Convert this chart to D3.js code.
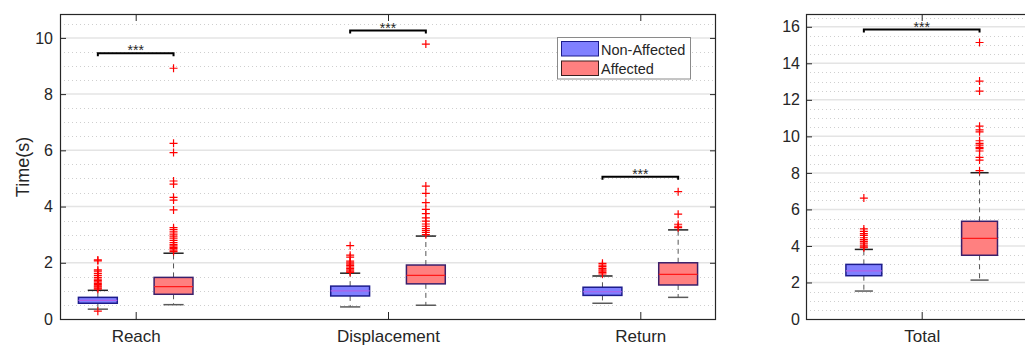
<!DOCTYPE html>
<html>
<head>
<meta charset="utf-8">
<script src="https://cdn.jsdelivr.net/npm/d3@7"></script>
<style>
  body { margin: 0; background: #fff; }
  text { font-family: "Liberation Sans", Arial, sans-serif; fill: #262626; }
</style>
</head>
<body>
<div id="chart"></div>
<script>
// Data: box stats are [lowerWhisker, q1, median, q3, upperWhisker]
var categories = ["Reach", "Displacement", "Return"];
var nonAffectedStats = [
  [0.35, 0.56, 0.66, 0.77, 1.02],
  [0.43, 0.82, 1.00, 1.17, 1.63],
  [0.56, 0.84, 0.97, 1.13, 1.53]
];
var affectedStats = [
  [0.51, 0.88, 1.15, 1.48, 2.34],
  [0.49, 1.25, 1.55, 1.92, 2.95],
  [0.77, 1.21, 1.59, 2.00, 3.17]
];
var nonAffectedOutliers = [
  [2.10, 2.07, 1.75, 1.70, 1.62, 1.55, 1.48, 1.42, 1.37, 1.32, 1.27, 1.22, 1.18, 1.14, 1.10, 1.06, 0.28],
  [2.61, 2.27, 2.20, 2.06, 2.00, 1.95, 1.90, 1.85, 1.80, 1.75, 1.70, 1.66],
  [1.98, 1.92, 1.86, 1.80, 1.75, 1.70, 1.65, 1.60]
];
var affectedOutliers = [
  [8.92, 6.25, 5.92, 4.91, 4.80, 4.33, 4.23, 3.88, 3.25, 3.18, 3.10, 3.02, 2.95, 2.88, 2.80, 2.72, 2.65, 2.60, 2.55, 2.50, 2.45, 2.40],
  [9.78, 4.73, 4.47, 4.14, 3.90, 3.75, 3.60, 3.48, 3.38, 3.30, 3.22, 3.15, 3.08, 3.00],
  [4.53, 3.73, 3.37, 3.30, 3.25]
];
var sigLevels = [9.45, 10.26, 5.06];

var totalCategory = ["Total"];
var totalNonAffectedStats = [[1.53, 2.37, 2.64, 2.99, 3.81]];
var totalAffectedStats = [[2.13, 3.49, 4.42, 5.35, 8.01]];
var totalNonAffectedOutliers = [[6.62, 4.93, 4.80, 4.68, 4.58, 4.45, 4.35, 4.25, 4.15, 4.05, 3.95, 3.90]];
var totalAffectedOutliers = [[15.14, 13.03, 12.48, 10.56, 10.35, 10.25, 9.76, 9.62, 9.52, 9.40, 9.33, 9.20, 8.85, 8.70, 8.12]];
var totalSigLevels = [15.85];

var leftTicks = [0, 2, 4, 6, 8, 10];
var rightTicks = [0, 2, 4, 6, 8, 10, 12, 14, 16];
var legendLabels = ["Non-Affected", "Affected"];

var svg = d3.select("#chart").append("svg")
  .attr("width", 1025)
  .attr("height", 345);

var colors = {
  naFill: "#8080ff", naEdge: "#1c1c8c", naMed: "#b060e8",
  aFill: "#ff8080", aEdge: "#3a1f6a", aMed: "#ff1a1a"
};

function drawPanel(opt) {
  var x = d3.scaleLinear().domain([0.7, opt.n + 0.3]).range(opt.xr);
  var y = d3.scaleLinear().domain([0, opt.ymax]).range([319, 14]);
  var g = svg.append("g");
  var x0 = opt.xr[0], x1 = opt.xr[1];

  // minor grid
  var minor = d3.range(0.5, opt.ymax, 0.5).filter(function(v) { return v % 2 !== 0; });
  g.selectAll(".minor").data(minor).enter().append("line")
    .attr("x1", x0).attr("x2", x1)
    .attr("y1", function(d) { return Math.round(y(d)) + 0.5; })
    .attr("y2", function(d) { return Math.round(y(d)) + 0.5; })
    .attr("stroke", "#cfcfcf").attr("stroke-dasharray", "1,3");

  // major grid
  g.selectAll(".major").data(opt.ticks.filter(function(d) { return d > 0; })).enter().append("line")
    .attr("x1", x0).attr("x2", x1)
    .attr("y1", function(d) { return y(d); })
    .attr("y2", function(d) { return y(d); })
    .attr("stroke", "#e4e4e4").attr("stroke-width", 1.5);

  // axes (MATLAB style, inward ticks)
  var leftAxis = d3.axisLeft(y).tickValues(opt.ticks).tickSizeInner(-6).tickSizeOuter(0).tickPadding(opt.pad);
  var ga = g.append("g").attr("transform", "translate(" + x0 + ",0)").call(leftAxis);
  ga.select(".domain").remove();
  ga.selectAll("line").attr("stroke", "#262626");
  ga.selectAll("text").style("font-size", "16px").attr("fill", "#262626");

  var rightAxis = d3.axisRight(y).tickValues(opt.ticks).tickSizeInner(-6).tickSizeOuter(0).tickFormat("");
  var gr = g.append("g").attr("transform", "translate(" + x1 + ",0)").call(rightAxis);
  gr.select(".domain").remove();
  gr.selectAll("line").attr("stroke", "#262626");

  var bottomAxis = d3.axisBottom(x).tickValues(d3.range(1, opt.n + 1)).tickSizeInner(-7).tickSizeOuter(0)
    .tickPadding(11).tickFormat(function(d) { return opt.cats[d - 1]; });
  var gb = g.append("g").attr("transform", "translate(0,319)").call(bottomAxis);
  gb.select(".domain").remove();
  gb.selectAll("line").attr("stroke", "#262626");
  gb.selectAll("text").style("font-size", "17px").attr("fill", "#262626");

  var topAxis = d3.axisTop(x).tickValues(d3.range(1, opt.n + 1)).tickSizeInner(-7).tickSizeOuter(0).tickFormat("");
  var gt = g.append("g").attr("transform", "translate(0,14)").call(topAxis);
  gt.select(".domain").remove();
  gt.selectAll("line").attr("stroke", "#262626");

  g.append("rect")
    .attr("x", x0 + 0.5).attr("y", 14.5)
    .attr("width", x1 - x0 - 1).attr("height", 305)
    .attr("fill", "none").attr("stroke", "#262626").attr("stroke-width", 1.2);

  function boxes(stats, outs, off, fill, edge, med) {
    var bw = opt.boxW, cw = opt.capW;
    var bg = g.selectAll(null).data(stats).enter().append("g");
    var cx = function(d, i) { return x(i + 1 + off); };
    // whiskers
    bg.append("line")
      .attr("x1", cx).attr("x2", cx)
      .attr("y1", function(d) { return y(d[3]); }).attr("y2", function(d) { return y(d[4]); })
      .attr("stroke", "#555").attr("stroke-dasharray", "5,4");
    bg.append("line")
      .attr("x1", cx).attr("x2", cx)
      .attr("y1", function(d) { return y(d[1]); }).attr("y2", function(d) { return y(d[0]); })
      .attr("stroke", "#555").attr("stroke-dasharray", "5,4");
    bg.append("line")
      .attr("x1", function(d, i) { return x(i + 1 + off - cw / 2); })
      .attr("x2", function(d, i) { return x(i + 1 + off + cw / 2); })
      .attr("y1", function(d) { return y(d[4]); }).attr("y2", function(d) { return y(d[4]); })
      .attr("stroke", "#222").attr("stroke-width", 1.5);
    bg.append("line")
      .attr("x1", function(d, i) { return x(i + 1 + off - cw / 2); })
      .attr("x2", function(d, i) { return x(i + 1 + off + cw / 2); })
      .attr("y1", function(d) { return y(d[0]); }).attr("y2", function(d) { return y(d[0]); })
      .attr("stroke", "#5a5a5a").attr("stroke-width", 1.5);
    // box
    bg.append("rect")
      .attr("x", function(d, i) { return x(i + 1 + off - bw / 2); })
      .attr("width", x(1 + bw) - x(1))
      .attr("y", function(d) { return y(d[3]); })
      .attr("height", function(d) { return y(d[1]) - y(d[3]); })
      .attr("fill", fill).attr("stroke", edge).attr("stroke-width", 1.5);
    bg.append("line")
      .attr("x1", function(d, i) { return x(i + 1 + off - bw / 2); })
      .attr("x2", function(d, i) { return x(i + 1 + off + bw / 2); })
      .attr("y1", function(d) { return y(d[2]); }).attr("y2", function(d) { return y(d[2]); })
      .attr("stroke", med).attr("stroke-width", 1.2);
    // outliers
    outs.forEach(function(list, i) {
      var px = x(i + 1 + off);
      list.forEach(function(v) {
        var py = y(v);
        g.append("path")
          .attr("d", "M" + (px - 4) + "," + py + "H" + (px + 4) + "M" + px + "," + (py - 4) + "V" + (py + 4))
          .attr("stroke", "#ff0000").attr("stroke-width", 1.2).attr("fill", "none");
      });
    });
  }

  boxes(opt.na, opt.naOut, -0.15, colors.naFill, colors.naEdge, colors.naMed);
  boxes(opt.a, opt.aOut, 0.15, colors.aFill, colors.aEdge, colors.aMed);

  // significance bars
  opt.sig.forEach(function(v, i) {
    var xa = x(i + 1 - 0.15), xb = x(i + 1 + 0.15), yy = y(v);
    g.append("path")
      .attr("d", "M" + xa + "," + (yy + 3) + "V" + yy + "H" + xb + "V" + (yy + 3))
      .attr("stroke", "#000").attr("stroke-width", 2).attr("fill", "none");
    g.append("text")
      .attr("x", (xa + xb) / 2).attr("y", yy + 2)
      .attr("text-anchor", "middle")
      .style("font-size", "14px").attr("fill", "#000")
      .text("***");
  });
}

drawPanel({
  n: 3, cats: categories, xr: [60, 716], ymax: 10.85, ticks: leftTicks, pad: 7,
  na: nonAffectedStats, a: affectedStats, naOut: nonAffectedOutliers, aOut: affectedOutliers,
  sig: sigLevels, boxW: 0.154, capW: 0.08
});

drawPanel({
  n: 1, cats: totalCategory, xr: [806, 1037.4], ymax: 16.7, ticks: rightTicks, pad: 6,
  na: totalNonAffectedStats, a: totalAffectedStats, naOut: totalNonAffectedOutliers, aOut: totalAffectedOutliers,
  sig: totalSigLevels, boxW: 0.093, capW: 0.047
});

// y label
svg.append("text")
  .attr("transform", "translate(29,167) rotate(-90)")
  .attr("text-anchor", "middle")
  .style("font-size", "18px")
  .text("Time(s)");

// legend
var lg = svg.append("g");
lg.append("rect").attr("x", 557.5).attr("y", 37.5).attr("width", 133).attr("height", 41.5)
  .attr("fill", "#fff").attr("stroke", "#8a8a8a");
var swatch = [colors.naFill, colors.aFill];
var swEdge = [colors.naEdge, "#3a1f1f"];
legendLabels.forEach(function(lab, i) {
  lg.append("rect").attr("x", 561.5).attr("y", 41.5 + i * 19.5).attr("width", 37).attr("height", 14.5)
    .attr("fill", swatch[i]).attr("stroke", swEdge[i]).attr("stroke-width", 1);
  lg.append("text").attr("x", 601).attr("y", 54.5 + i * 19.5)
    .style("font-size", "14.5px").attr("fill", "#000").text(lab);
});
</script>
</body>
</html>
